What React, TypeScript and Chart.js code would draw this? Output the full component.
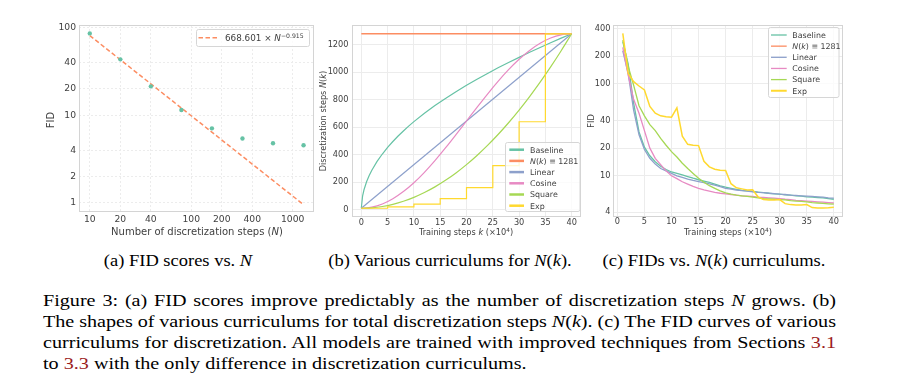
import React, { useEffect, useRef } from 'react';
import { Chart, registerables } from 'chart.js';

Chart.register(...registerables);

// ---------- colours ----------
const TEAL = '#66c2a5';
const ORANGE = '#fc8d62';
const BLUE = '#8da0cb';
const PINK = '#e78ac3';
const GREEN = '#a6d854';
const YELLOW = '#ffd92f';
const TICK_COLOR = '#404040';
const GRID_COLOR = '#ececec';
const FRAME_COLOR = '#d4d4d4';
const FONT = '"DejaVu Sans", sans-serif';

// ---------- (a) FID vs N ----------
const N_STEPS = [10, 20, 40, 80, 160, 320, 640, 1280];
const FID_BY_N = [86, 43.5, 21.4, 11.5, 7.1, 5.45, 4.8, 4.55];
const FIT_N = [10, 1280];
const FIT_FID = [81.3, 0.957];
const A_X_TICKS = [10, 20, 40, 100, 200, 400, 1000];
const A_Y_TICKS = [1, 2, 4, 10, 20, 40, 100];

// ---------- (b) curriculums N(k) ----------
const BASELINE_K = [0, 0.25, 0.5, 1, 1.5, 2, 3, 4, 5, 6, 7, 8, 9, 10, 12, 14, 16, 18, 20, 22, 24, 26, 28, 30, 32, 34, 36, 38, 40];
const BASELINE_N = [10, 101, 143, 203, 248, 287, 351, 405, 453, 496, 536, 573, 608, 641, 702, 758, 810, 859, 906, 950, 992, 1033, 1072, 1109, 1146, 1181, 1215, 1249, 1281];
const CONST_K = [0, 40];
const CONST_N = [1281, 1281];
const LINEAR_K = [0, 40];
const LINEAR_N = [10, 1281];
const SMOOTH_K = [0, 2, 4, 6, 8, 10, 12, 14, 16, 18, 20, 22, 24, 26, 28, 30, 32, 34, 36, 38, 40];
const COSINE_N = [10, 17.8, 41.1, 79.3, 131.4, 196.1, 272, 357, 449.1, 546.1, 645.5, 744.9, 841.9, 934, 1019, 1094.9, 1159.6, 1211.7, 1249.9, 1273.2, 1281];
const SQUARE_N = [10, 13.2, 22.7, 38.6, 60.8, 89.4, 124.4, 165.7, 213.4, 267.4, 327.8, 394.5, 467.6, 547, 632.8, 724.9, 823.4, 928.3, 1039.5, 1157.1, 1281];
const EXP_K = [0, 5, 10, 15, 20, 25, 30, 35, 40];
const EXP_N = [10, 20, 40, 80, 160, 320, 640, 1280, 1280];
const B_X_TICKS = [0, 5, 10, 15, 20, 25, 30, 35, 40];
const B_Y_TICKS = [0, 200, 400, 600, 800, 1000, 1200];

// ---------- (c) FIDs vs curriculums ----------
const TRAIN_K = [1, 2, 3, 4, 5, 6, 7, 8, 9, 10, 11, 12, 13, 14, 15, 16, 17, 18, 19, 20, 21, 22, 23, 24, 25, 26, 27, 28, 29, 30, 31, 32, 33, 34, 35, 36, 37, 38, 39, 40];
const FID_BASELINE = [290, 165, 62, 30, 20.5, 16.5, 14.2, 12.7, 11.7, 11.0, 10.6, 10.2, 9.8, 9.4, 9.05, 8.75, 8.45, 8.1, 7.75, 7.5, 7.3, 7.1, 6.95, 6.85, 6.75, 6.65, 6.55, 6.45, 6.35, 6.3, 6.2, 6.15, 6.05, 6.0, 5.9, 5.85, 5.8, 5.75, 5.65, 5.55];
const FID_LINEAR = [230, 130, 52, 28, 19.3, 15.5, 13.4, 12.0, 11.3, 10.6, 10.0, 9.6, 9.2, 8.9, 8.65, 8.4, 8.15, 7.9, 7.6, 7.3, 7.15, 7.0, 6.9, 6.8, 6.7, 6.6, 6.55, 6.45, 6.4, 6.3, 6.25, 6.15, 6.1, 6.05, 6.0, 5.95, 5.9, 5.85, 5.75, 5.7];
const FID_COSINE = [250, 125, 68, 48, 31, 20, 15.5, 13.2, 11.3, 10.0, 9.3, 8.6, 8.1, 7.65, 7.3, 7.0, 6.8, 6.6, 6.45, 6.35, 6.25, 6.15, 6.05, 6.0, 5.95, 5.85, 5.8, 5.75, 5.7, 5.65, 5.55, 5.5, 5.4, 5.35, 5.3, 5.25, 5.2, 5.15, 5.1, 5.05];
const FID_SQUARE = [300, 155, 97, 58, 45, 36, 31, 25.5, 21.5, 18.3, 16, 13.7, 12, 10.6, 9.4, 8.5, 7.8, 7.3, 6.85, 6.5, 6.3, 6.15, 6.05, 5.95, 5.85, 5.75, 5.65, 5.6, 5.55, 5.5, 5.45, 5.35, 5.3, 5.25, 5.2, 5.1, 5.05, 5.0, 4.95, 4.9];
const FID_EXP = [356, 130, 106, 95, 86, 57, 48, 45, 44, 43.5, 55, 27, 22, 21.5, 21.3, 14.4, 12.5, 11.8, 11.5, 11.4, 8.2, 7.4, 7.2, 7.0, 7.05, 5.9, 5.5, 5.45, 5.45, 5.5, 4.97, 4.85, 4.8, 4.8, 4.85, 4.5, 4.45, 4.45, 4.48, 4.55];
const C_X_TICKS = [0, 5, 10, 15, 20, 25, 30, 35, 40];
const C_Y_TICKS = [4, 10, 20, 40, 100, 200, 400];

// ---------- rich text helpers ----------
type Seg = { t: string; i?: boolean; sup?: boolean };

function segFont(s: Seg, size: number) {
  return `${s.i ? 'italic ' : ''}${s.sup ? size * 0.7 : size}px ${FONT}`;
}
function richWidth(ctx: CanvasRenderingContext2D, segs: Seg[], size: number) {
  let w = 0;
  for (const s of segs) {
    ctx.font = segFont(s, size);
    w += ctx.measureText(s.t).width;
  }
  return w;
}
// y is the visual centre of the text line
function drawRich(ctx: CanvasRenderingContext2D, segs: Seg[], x: number, y: number, size: number, align: 'left' | 'center', color: string) {
  ctx.save();
  ctx.fillStyle = color;
  ctx.textBaseline = 'alphabetic';
  ctx.textAlign = 'left';
  const total = richWidth(ctx, segs, size);
  let cx = align === 'center' ? x - total / 2 : x;
  const base = y + size * 0.36;
  for (const s of segs) {
    ctx.font = segFont(s, size);
    ctx.fillText(s.t, cx, s.sup ? base - size * 0.42 : base);
    cx += ctx.measureText(s.t).width;
  }
  ctx.restore();
}
function drawRichRotated(ctx: CanvasRenderingContext2D, segs: Seg[], x: number, y: number, size: number, color: string) {
  ctx.save();
  ctx.translate(x, y);
  ctx.rotate(-Math.PI / 2);
  drawRich(ctx, segs, 0, 0, size, 'center', color);
  ctx.restore();
}
function drawBox(ctx: CanvasRenderingContext2D, x: number, y: number, w: number, h: number) {
  const r = 2;
  ctx.save();
  ctx.beginPath();
  ctx.moveTo(x + r, y);
  ctx.lineTo(x + w - r, y);
  ctx.quadraticCurveTo(x + w, y, x + w, y + r);
  ctx.lineTo(x + w, y + h - r);
  ctx.quadraticCurveTo(x + w, y + h, x + w - r, y + h);
  ctx.lineTo(x + r, y + h);
  ctx.quadraticCurveTo(x, y + h, x, y + h - r);
  ctx.lineTo(x, y + r);
  ctx.quadraticCurveTo(x, y, x + r, y);
  ctx.closePath();
  ctx.fillStyle = 'rgba(255,255,255,0.8)';
  ctx.fill();
  ctx.strokeStyle = '#d6d6d6';
  ctx.lineWidth = 1;
  ctx.stroke();
  ctx.restore();
}
function drawHandle(ctx: CanvasRenderingContext2D, x0: number, x1: number, y: number, color: string, lw: number, dash?: number[]) {
  ctx.save();
  ctx.strokeStyle = color;
  ctx.lineWidth = lw;
  if (dash) ctx.setLineDash(dash);
  ctx.beginPath();
  ctx.moveTo(x0, y);
  ctx.lineTo(x1, y);
  ctx.stroke();
  ctx.restore();
}

// ---------- titles & legends ----------
const A_X_TITLE: Seg[] = [{ t: 'Number of discretization steps (' }, { t: 'N', i: true }, { t: ')' }];
const A_Y_TITLE: Seg[] = [{ t: 'FID' }];
const A_LEGEND: Seg[] = [{ t: '668.601 × ' }, { t: 'N', i: true }, { t: '−0.915', sup: true }];
const B_X_TITLE: Seg[] = [{ t: 'Training steps ' }, { t: 'k', i: true }, { t: ' (×10' }, { t: '4', sup: true }, { t: ')' }];
const B_Y_TITLE: Seg[] = [{ t: 'Discretization steps ' }, { t: 'N', i: true }, { t: '(' }, { t: 'k', i: true }, { t: ')' }];
const C_X_TITLE: Seg[] = [{ t: 'Training steps (×10' }, { t: '4', sup: true }, { t: ')' }];
const C_Y_TITLE: Seg[] = [{ t: 'FID' }];
const CURRICULUM_LABELS: Seg[][] = [
  [{ t: 'Baseline' }],
  [{ t: 'N', i: true }, { t: '(' }, { t: 'k', i: true }, { t: ') ≡ 1281' }],
  [{ t: 'Linear' }],
  [{ t: 'Cosine' }],
  [{ t: 'Square' }],
  [{ t: 'Exp' }],
];
const CURRICULUM_COLORS = [TEAL, ORANGE, BLUE, PINK, GREEN, YELLOW];

// ---------- chart helpers ----------
function axis(type: string, min: number, max: number, ticks: number[], o: { isX: boolean; size: number; font: number; pad: number; dashed?: boolean }) {
  return {
    type,
    min,
    max,
    afterBuildTicks: (s: any) => {
      s.ticks = ticks.map((v) => ({ value: v }));
    },
    afterFit: (s: any) => {
      if (o.isX) s.height = o.size;
      else s.width = o.size;
    },
    ticks: {
      autoSkip: false,
      maxRotation: 0,
      minRotation: 0,
      padding: o.pad,
      color: TICK_COLOR,
      font: { family: FONT, size: o.font },
      callback: (v: any) => String(v),
    },
    grid: { color: GRID_COLOR, drawTicks: false, lineWidth: 1 },
    border: { display: false, dash: o.dashed ? [2, 2] : [] },
  };
}

const framePlugin = {
  id: 'frame',
  beforeDatasetsDraw(chart: any) {
    const { ctx, chartArea: a } = chart;
    ctx.save();
    ctx.strokeStyle = FRAME_COLOR;
    ctx.lineWidth = 1;
    ctx.strokeRect(Math.round(a.left) + 0.5, Math.round(a.top) + 0.5, Math.round(a.right - a.left) - 1, Math.round(a.bottom - a.top) - 1);
    ctx.restore();
  },
};

function overlay(left: number, draw: (ctx: CanvasRenderingContext2D) => void) {
  return {
    id: 'overlay',
    afterDraw(chart: any) {
      const ctx = chart.ctx as CanvasRenderingContext2D;
      ctx.save();
      ctx.translate(-left, 0);
      draw(ctx);
      ctx.restore();
    },
  };
}

const pts = (xs: number[], ys: number[]) => xs.map((x, i) => ({ x, y: ys[i] }));

const base = (padRight: number) => ({
  animation: false as const,
  responsive: false,
  maintainAspectRatio: false,
  layout: { padding: { left: 0, top: 25, right: padRight, bottom: 0 } },
  plugins: { legend: { display: false }, tooltip: { enabled: false } },
  elements: { point: { radius: 0 }, line: { tension: 0 } },
});

// geometry of panels (page coordinates)
const PA = { L: 0, W: 318, H: 245 };
const PB = { L: 310, W: 280, H: 245 };
const PC = { L: 582, W: 273, H: 245 };

function makeA(canvas: HTMLCanvasElement) {
  return new Chart(canvas, {
    type: 'line',
    data: {
      datasets: [
        { data: pts(FIT_N, FIT_FID), borderColor: ORANGE, borderWidth: 1.5, borderDash: [4.5, 2.5], pointRadius: 0, order: 1 },
        { data: pts(N_STEPS, FID_BY_N), showLine: false, pointRadius: 2.2, pointBackgroundColor: TEAL, pointBorderWidth: 0, borderColor: TEAL, order: 0 },
      ],
    } as any,
    options: {
      ...base(PA.W - 314),
      scales: {
        x: axis('logarithmic', 7.83, 1623, A_X_TICKS, { isX: true, size: PA.H - 212, font: 9.2, pad: 2.5, dashed: true }),
        y: axis('logarithmic', 0.789, 107.3, A_Y_TICKS, { isX: false, size: 79 - PA.L, font: 9.2, pad: 3, dashed: true }),
      },
    } as any,
    plugins: [
      framePlugin,
      overlay(PA.L, (ctx) => {
        drawRich(ctx, A_X_TITLE, 197, 231.7, 10, 'center', TICK_COLOR);
        drawRichRotated(ctx, A_Y_TITLE, 50, 120, 10, TICK_COLOR);
        drawBox(ctx, 196.5, 29.5, 113, 17);
        drawHandle(ctx, 198.5, 217, 37.8, ORANGE, 1.5, [4.5, 2.5]);
        drawRich(ctx, A_LEGEND, 225, 38.2, 8.8, 'left', TICK_COLOR);
      }),
    ] as any,
  });
}

function makeB(canvas: HTMLCanvasElement) {
  const lw = 1.2;
  return new Chart(canvas, {
    type: 'line',
    data: {
      datasets: [
        { data: pts(BASELINE_K, BASELINE_N), borderColor: TEAL, borderWidth: lw, order: 5 },
        { data: pts(CONST_K, CONST_N), borderColor: ORANGE, borderWidth: 1.4, order: 4 },
        { data: pts(LINEAR_K, LINEAR_N), borderColor: BLUE, borderWidth: lw, order: 3 },
        { data: pts(SMOOTH_K, COSINE_N), borderColor: PINK, borderWidth: lw, cubicInterpolationMode: 'monotone', order: 2 },
        { data: pts(SMOOTH_K, SQUARE_N), borderColor: GREEN, borderWidth: lw, cubicInterpolationMode: 'monotone', order: 1 },
        { data: pts(EXP_K, EXP_N), borderColor: YELLOW, borderWidth: lw, stepped: 'before', order: 0 },
      ],
    } as any,
    options: {
      ...base(PB.W - (581 - PB.L)),
      scales: {
        x: axis('linear', -1.77, 41.77, B_X_TICKS, { isX: true, size: PB.H - 217, font: 8.2, pad: 1 }),
        y: axis('linear', -53.55, 1344.55, B_Y_TICKS, { isX: false, size: 352 - PB.L, font: 8.2, pad: 3.5 }),
      },
    } as any,
    plugins: [
      framePlugin,
      overlay(PB.L, (ctx) => {
        drawRich(ctx, B_X_TITLE, 466, 232.3, 8.2, 'center', TICK_COLOR);
        drawRichRotated(ctx, B_Y_TITLE, 322.7, 121, 8.2, TICK_COLOR);
        drawBox(ctx, 505.5, 142.5, 74.5, 69);
        CURRICULUM_LABELS.forEach((segs, i) => {
          const y = 149.7 + 11.2 * i;
          drawHandle(ctx, 509.3, 524, y, CURRICULUM_COLORS[i], 2.5);
          drawRich(ctx, segs, 530, y, 7.9, 'left', TICK_COLOR);
        });
      }),
    ] as any,
  });
}

function makeC(canvas: HTMLCanvasElement) {
  const lw = 1.3;
  return new Chart(canvas, {
    type: 'line',
    data: {
      datasets: [
        { data: pts(TRAIN_K, FID_BASELINE), borderColor: TEAL, borderWidth: lw, order: 5 },
        { data: pts(TRAIN_K, FID_LINEAR), borderColor: BLUE, borderWidth: lw, order: 3 },
        { data: pts(TRAIN_K, FID_COSINE), borderColor: PINK, borderWidth: lw, order: 2 },
        { data: pts(TRAIN_K, FID_SQUARE), borderColor: GREEN, borderWidth: lw, order: 1 },
        { data: pts(TRAIN_K, FID_EXP), borderColor: YELLOW, borderWidth: 1.5, order: 0 },
      ],
    } as any,
    options: {
      ...base(PC.W - (843 - PC.L)),
      scales: {
        x: axis('linear', -0.81, 41.7, C_X_TICKS, { isX: true, size: PC.H - 217, font: 8.2, pad: 0 }),
        y: axis('logarithmic', 3.555, 439, C_Y_TICKS, { isX: false, size: 613 - PC.L, font: 8.2, pad: 2.5 }),
      },
    } as any,
    plugins: [
      framePlugin,
      overlay(PC.L, (ctx) => {
        drawRich(ctx, C_X_TITLE, 728, 232, 8.3, 'center', TICK_COLOR);
        drawRichRotated(ctx, C_Y_TITLE, 590.7, 121, 8.3, TICK_COLOR);
        drawBox(ctx, 768.5, 27.5, 70.5, 70);
        CURRICULUM_LABELS.forEach((segs, i) => {
          const y = 35 + 11.15 * i;
          drawHandle(ctx, 771, 786.7, y, CURRICULUM_COLORS[i], i === 5 ? 2 : 1.3);
          drawRich(ctx, segs, 792.3, y, 7.9, 'left', TICK_COLOR);
        });
      }),
    ] as any,
  });
}

// ---------- caption ----------
const SERIF = '"Liberation Serif", "Times New Roman", Times, serif';
const RED = '#9b1c1c';
const SUB_SCALE_X = 1.12;
const CAP_SCALE_X = 1.15;

const lineStyle: React.CSSProperties = {
  height: 21.1,
  lineHeight: '21.1px',
  textAlign: 'justify',
  textAlignLast: 'justify' as any,
  whiteSpace: 'normal',
  wordSpacing: '-2px',
};

function Sub({ cx, children }: { cx: number; children: React.ReactNode }) {
  return (
    <div
      style={{
        position: 'absolute',
        left: cx - 160,
        top: 250.4,
        width: 320,
        textAlign: 'center',
        fontFamily: SERIF,
        fontSize: 16.5,
        lineHeight: '21px',
        transform: `scaleX(${SUB_SCALE_X})`,
        transformOrigin: 'center top',
        whiteSpace: 'nowrap',
        color: '#000',
      }}
    >
      {children}
    </div>
  );
}

export default function App() {
  const refA = useRef<HTMLCanvasElement>(null);
  const refB = useRef<HTMLCanvasElement>(null);
  const refC = useRef<HTMLCanvasElement>(null);

  useEffect(() => {
    const charts = [makeA(refA.current!), makeB(refB.current!), makeC(refC.current!)];
    return () => charts.forEach((c) => c.destroy());
  }, []);

  const cv = (p: { L: number; W: number; H: number }): React.CSSProperties => ({
    position: 'absolute',
    left: p.L,
    top: 0,
    width: p.W,
    height: p.H,
  });

  return (
    <div style={{ position: 'absolute', left: 0, top: 0, width: 908, height: 392, background: '#fff', overflow: 'hidden' }}>
      <canvas ref={refA} width={PA.W} height={PA.H} style={cv(PA)} />
      <canvas ref={refB} width={PB.W} height={PB.H} style={cv(PB)} />
      <canvas ref={refC} width={PC.W} height={PC.H} style={cv(PC)} />

      <Sub cx={178}>
        (a) FID scores vs. <i>N</i>
      </Sub>
      <Sub cx={450}>
        (b) Various curriculums for <i>N</i>(<i>k</i>).
      </Sub>
      <Sub cx={714}>
        (c) FIDs vs. <i>N</i>(<i>k</i>) curriculums.
      </Sub>

      <div
        style={{
          position: 'absolute',
          left: 43,
          top: 290,
          width: 793 / CAP_SCALE_X,
          fontFamily: SERIF,
          fontSize: 17.5,
          color: '#000',
          transform: `scaleX(${CAP_SCALE_X})`,
          transformOrigin: 'left top',
        }}
      >
        <div style={lineStyle}>
          Figure 3: (a) FID scores improve predictably as the number of discretization steps <i>N</i> grows. (b)
        </div>
        <div style={lineStyle}>
          The shapes of various curriculums for total discretization steps <i>N</i>(<i>k</i>). (c) The FID curves of various
        </div>
        <div style={lineStyle}>
          curriculums for discretization. All models are trained with improved techniques from Sections <span style={{ color: RED }}>3.1</span>
        </div>
        <div style={{ ...lineStyle, textAlign: 'left', textAlignLast: 'left' as any, wordSpacing: 'normal' }}>
          to <span style={{ color: RED }}>3.3</span> with the only difference in discretization curriculums.
        </div>
      </div>
    </div>
  );
}
